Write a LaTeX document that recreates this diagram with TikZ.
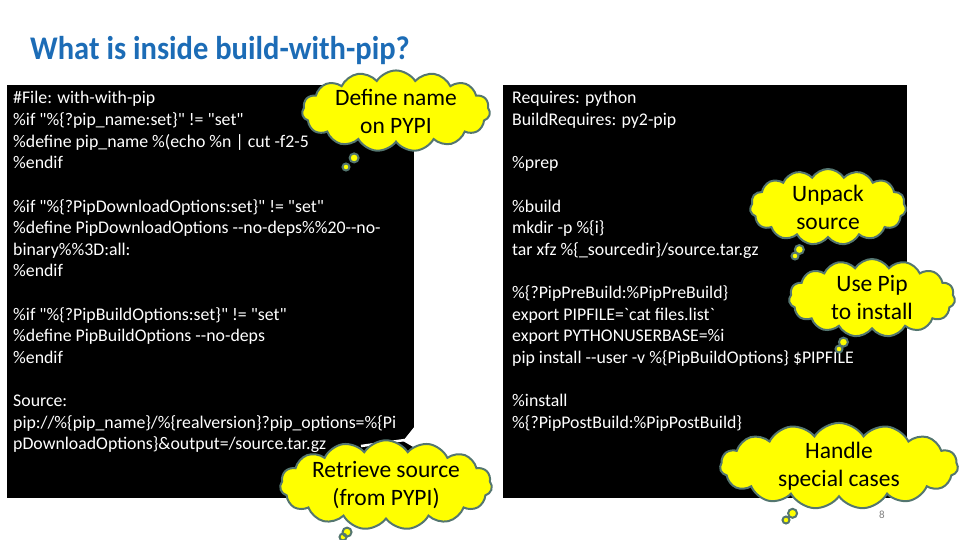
\documentclass[tikz,border=0pt]{standalone}
\usepackage{fontspec}
\usepackage{graphicx}
\setmainfont{Carlito}
\newfontfamily\codefont{Carlito}
\usetikzlibrary{shapes.symbols,shapes.callouts}
\definecolor{titleblue}{RGB}{28,108,182}
\definecolor{cloudline}{RGB}{84,118,112}
\definecolor{cloudfill}{RGB}{255,255,0}
\tikzset{
  panel/.style={fill=black,minimum width=#1,minimum height=413,inner sep=0pt},
  code/.style={anchor=base west,text=white,inner sep=0pt,font=\codefont\fontsize{17.8}{20}\selectfont},
  thought/.style={cloud callout,draw=cloudline,line width=2pt,fill=cloudfill,
    cloud puffs=15,cloud puff arc=115,cloud ignores aspect,callout pointer segments=2,
    callout pointer start size=12pt and 11pt,callout pointer end size=7pt and 7pt,
    align=center,inner sep=0pt,font=\fontsize{23.5}{28}\selectfont}
}
\begin{document}
\begin{tikzpicture}[x=1pt,y=-1pt]
\useasboundingbox (0,0) rectangle (960,540);
\node[anchor=base west,text=titleblue,inner sep=0pt,font=\bfseries\fontsize{33}{38}\selectfont] (title) at (30,60) {\scalebox{0.925}[1]{What is inside build-with-pip?}};
% the two listings
\node[panel=407] (LEFT) at (210.5,291.5) {};
\node[panel=404] (RIGHT) at (705,291.5) {};
\node[code] (l0) at (13,104) {\#File: with-with-pip};
\node[code] (l1) at (13,125.6) {\%if "\%\{?pip\_name:set\}" != "set"};
\node[code] (l2) at (13,147.2) {\%define pip\_name \%(echo \%n | cut -f2-5};
\node[code] (l3) at (13,168.8) {\%endif};
\node[code] (l5) at (13,212) {\%if "\%\{?PipDownloadOptions:set\}" != "set"};
\node[code] (l6) at (13,233.6) {\%define PipDownloadOptions --no-deps\%\%20--no-};
\node[code] (l7) at (13,255.2) {binary\%\%3D:all:};
\node[code] (l8) at (13,276.8) {\%endif};
\node[code] (l10) at (13,320) {\%if "\%\{?PipBuildOptions:set\}" != "set"};
\node[code] (l11) at (13,341.6) {\%define PipBuildOptions --no-deps};
\node[code] (l12) at (13,363.2) {\%endif};
\node[code] (l14) at (13,406.4) {Source:};
\node[code] (l15) at (13,428) {pip://\%\{pip\_name\}/\%\{realversion\}?pip\_options=\%\{Pi};
\node[code] (l16) at (13,449.6) {pDownloadOptions\}\&output=/source.tar.gz};
\node[code] (r0) at (512,104) {Requires: python};
\node[code] (r1) at (512,125.6) {BuildRequires: py2-pip};
\node[code] (r3) at (512,168.8) {\%prep};
\node[code] (r5) at (512,212) {\%build};
\node[code] (r6) at (512,233.6) {mkdir -p \%\{i\}};
\node[code] (r7) at (512,255.2) {tar xfz \%\{\_sourcedir\}/source.tar.gz};
\node[code] (r9) at (512,298.4) {\%\{?PipPreBuild:\%PipPreBuild\}};
\node[code] (r10) at (512,320) {export PIPFILE=`cat files.list`};
\node[code] (r11) at (512,341.6) {export PYTHONUSERBASE=\%i};
\node[code] (r12) at (512,363.2) {pip install --user -v \%\{PipBuildOptions\} \$PIPFILE};
\node[code] (r14) at (512,406.4) {\%install};
\node[code] (r15) at (512,428) {\%\{?PipPostBuild:\%PipPostBuild\}};
% white notch at the corner of the left listing
\fill[white] (403,441) -- (415,426) -- (415,448) -- cycle;
\draw[white,line width=2.5] (361,446) -- (405,440);
% thought clouds
\coordinate (defTip) at (346,167);
\coordinate (getTip) at (343,537);
\coordinate (unpTip) at (795,256);
\coordinate (pipTip) at (839,349);
\coordinate (hndTip) at (786,520);
\node[thought,minimum width=188,minimum height=74,callout absolute pointer={(defTip)}] (defName) at (396,111) {Define name\\on PYPI};
\node[thought,minimum width=208,minimum height=80,callout absolute pointer={(getTip)}] (getSrc) at (386,485) {Retrieve source\\(from PYPI)};
\node[thought,minimum width=156,minimum height=76,callout absolute pointer={(unpTip)}] (unpack) at (828,207) {Unpack\\source};
\node[thought,minimum width=166,minimum height=78,callout absolute pointer={(pipTip)}] (usePip) at (872,298) {Use Pip\\to install};
\node[thought,minimum width=238,minimum height=74,callout absolute pointer={(hndTip)}] (handle) at (839,466) {Handle\\special cases};
\node[text=gray,inner sep=0pt,font=\fontsize{11}{13}\selectfont] (pageNo) at (882,515) {8};
\end{tikzpicture}
\end{document}
